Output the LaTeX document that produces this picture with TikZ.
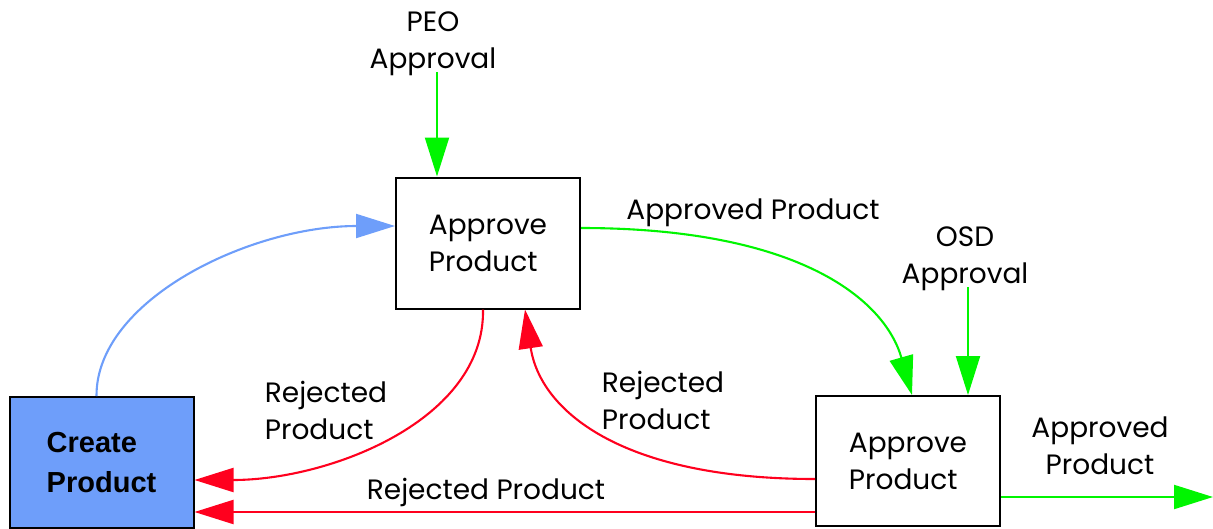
\documentclass[tikz,border=0pt]{standalone}
\usepackage{fontspec}
\setmainfont{Poppins}
\newfontfamily\boxfont{Liberation Sans}
\usetikzlibrary{arrows.meta}
\definecolor{flowgreen}{RGB}{0,245,0}
\definecolor{flowred}{RGB}{255,0,30}
\definecolor{flowblue}{RGB}{110,158,250}
\tikzset{
  lbl/.style={font=\fontsize{28}{37}\selectfont, inner sep=0pt},
  procbox/.style={draw=black, line width=2pt, minimum width=184pt, minimum height=131pt,
    align=left, inner sep=0pt, font=\fontsize{28}{37}\selectfont},
  head/.style={-{Triangle[length=39pt,width=24pt]}},
  conn/.style={line width=2.1pt, head},
}
\begin{document}
\begin{tikzpicture}[x=1pt,y=-1pt]
\useasboundingbox (0,0) rectangle (1213,528);
% process boxes
\node[procbox, fill=flowblue, font=\boxfont\bfseries\fontsize{29}{40}\selectfont] (create) at (101.5,462.5) {Create\\Product};
\node[procbox] (ap1) at (488,243) {Approve\\Product};
\node[procbox, minimum height=130pt] (ap2) at (908,461) {Approve\\Product};
% control inputs
\node[lbl, align=center] (peo) at (433,44) {PEO\\Approval};
\node[lbl, align=center] (osd) at (965,259) {OSD\\Approval};
% flow labels
\node[lbl] (lapp) at (753,213) {Approved Product};
\node[lbl, align=left] (lrej1) at (326,410) {Rejected\\Product};
\node[lbl, align=left] (lrej2) at (663,400) {Rejected\\Product};
\node[lbl] (lrej3) at (486,492) {Rejected Product};
\node[lbl, align=center] (lout) at (1100,446) {Approved\\Product};
% anchor points on the boxes
\coordinate (t1) at ([xshift=-51pt]ap1.north);
\coordinate (t2) at ([xshift=60pt]ap2.north);
\coordinate (out) at (1213,497);
% connectors
\draw[conn, flowgreen] (peo.south -| t1) ++(0,-4) -- (t1);
\draw[conn, flowgreen] (osd.south -| t2) ++(0,-4) -- (t2);
\draw[conn, flowblue] ([xshift=-5pt]create.north) .. controls (96,300) and (250,226) .. ([yshift=17pt]ap1.west);
\draw[conn, flowgreen] ([yshift=15pt]ap1.east) .. controls (800,228) and (885,300) .. ([xshift=4pt]ap2.north);
\draw[conn, flowred] ([xshift=-5pt]ap1.south) .. controls (485,420) and (330,480) .. ([yshift=-17.5pt]create.east);
\draw[conn, flowred] ([yshift=-18pt]ap2.west) .. controls (620,479) and (540,410) .. ([xshift=37pt]ap1.south);
\draw[conn, flowred] ([yshift=-51pt]ap2.west) -- ([yshift=-49.5pt]create.east);
\draw[conn, flowgreen] ([yshift=-36pt]ap2.east) -- (out);
\end{tikzpicture}
\end{document}
